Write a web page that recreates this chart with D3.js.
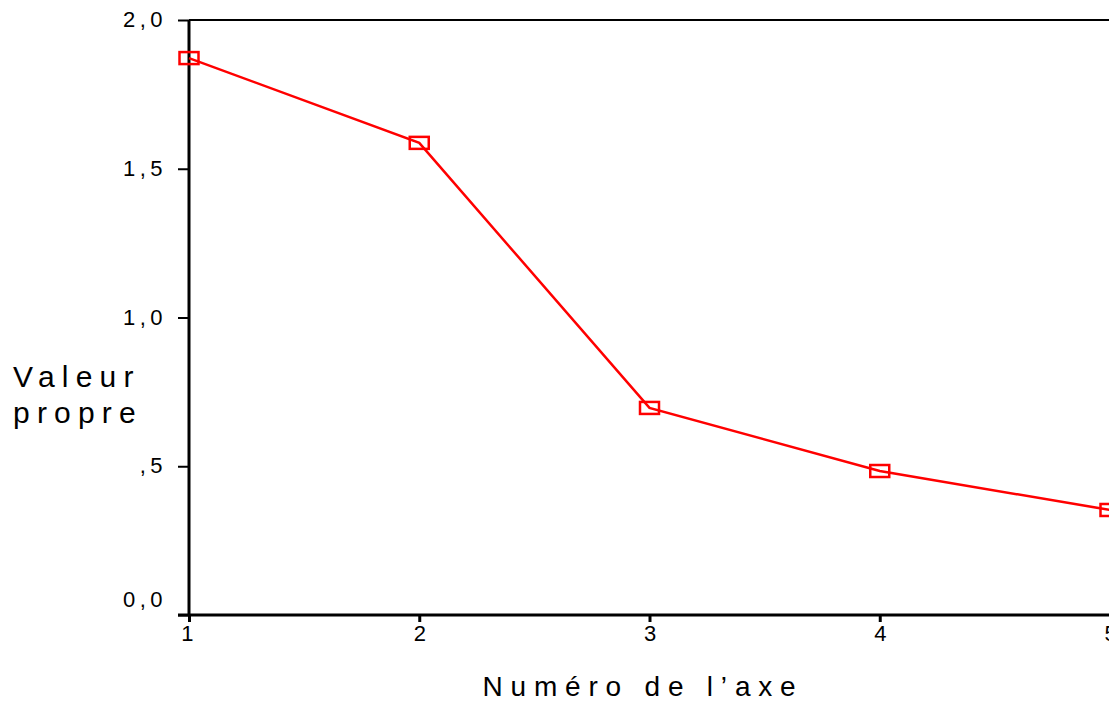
<!DOCTYPE html>
<html>
<head>
<meta charset="utf-8">
<script src="https://cdn.jsdelivr.net/npm/d3@7"></script>
<style>
	body { margin: 0; background: #fff; }
	text { font-family: "Liberation Sans", Arial, sans-serif; fill: #000; }
</style>
</head>
<body>
<script>
var axisNumbers = [1, 2, 3, 4, 5]
var eigenvalues = [1.872, 1.587, 0.696, 0.484, 0.353]
var yTicks = [0, 0.5, 1.0, 1.5, 2.0]
var yTickLabels = ["0,0", ",5", "1,0", "1,5", "2,0"]
var xTitle = "Numéro de l’axe"
var yTitle = ["Valeur", "propre"]

var width = 1109, height = 701
var svg = d3.select("body").append("svg")
	.attr("width", width)
	.attr("height", height)

var x = d3.scaleLinear().domain([1, 5]).range([189, 1110])
var y = d3.scaleLinear().domain([0, 2]).range([615, 20])

// frame top line
svg.append("line")
	.attr("x1", 189).attr("x2", width)
	.attr("y1", y(2)).attr("y2", y(2))
	.attr("stroke", "#000").attr("stroke-width", 2)

// y axis
var yAxis = svg.append("g")
	.attr("transform", "translate(" + x(1) + ",0)")
	.call(d3.axisLeft(y).tickValues(yTicks).tickSize(11).tickPadding(11)
		.tickFormat((d, i) => yTickLabels[i]))
yAxis.select(".domain").attr("stroke-width", 3).attr("d", "M0," + y(0) + "V" + y(2))
yAxis.selectAll(".tick line").attr("stroke-width", 2)
yAxis.selectAll(".tick text")
	.attr("font-size", 22).attr("letter-spacing", 4.5)
	.attr("dy", d => d === 0 ? "-0.4em" : "0.3em")

// x axis
var xAxis = svg.append("g")
	.attr("transform", "translate(0," + y(0) + ")")
	.call(d3.axisBottom(x).tickValues(axisNumbers).tickSize(7).tickPadding(3)
		.tickFormat(d3.format("d")))
xAxis.select(".domain").attr("stroke-width", 3).attr("d", "M178,0H" + width)
xAxis.selectAll(".tick line").attr("stroke-width", 3)
xAxis.selectAll(".tick text").attr("font-size", 22)
	.attr("dx", d => d === 1 ? "-0.1em" : 0)

// titles
svg.append("text")
	.attr("x", 643).attr("y", 696)
	.attr("text-anchor", "middle")
	.attr("font-size", 28).attr("letter-spacing", 7.8)
	.text(xTitle)

svg.selectAll(".ytitle").data(yTitle).enter().append("text")
	.attr("class", "ytitle")
	.attr("x", 13)
	.attr("y", (d, i) => 387 + i * 36)
	.attr("font-size", 30).attr("letter-spacing", 7.2)
	.text(d => d)

// line
var pts = axisNumbers.map((n, i) => [n, eigenvalues[i]])
svg.append("path")
	.datum(pts)
	.attr("fill", "none")
	.attr("stroke", "#ff0000")
	.attr("stroke-width", 2.5)
	.attr("d", d3.line().x(d => x(d[0])).y(d => y(d[1])))

svg.selectAll(".marker").data(pts).enter().append("rect")
	.attr("class", "marker")
	.attr("x", d => x(d[0]) - 9.5)
	.attr("y", d => y(d[1]) - 6)
	.attr("width", 19)
	.attr("height", 12)
	.attr("fill", "none")
	.attr("stroke", "#ff0000")
	.attr("stroke-width", 2.5)
</script>
</body>
</html>
